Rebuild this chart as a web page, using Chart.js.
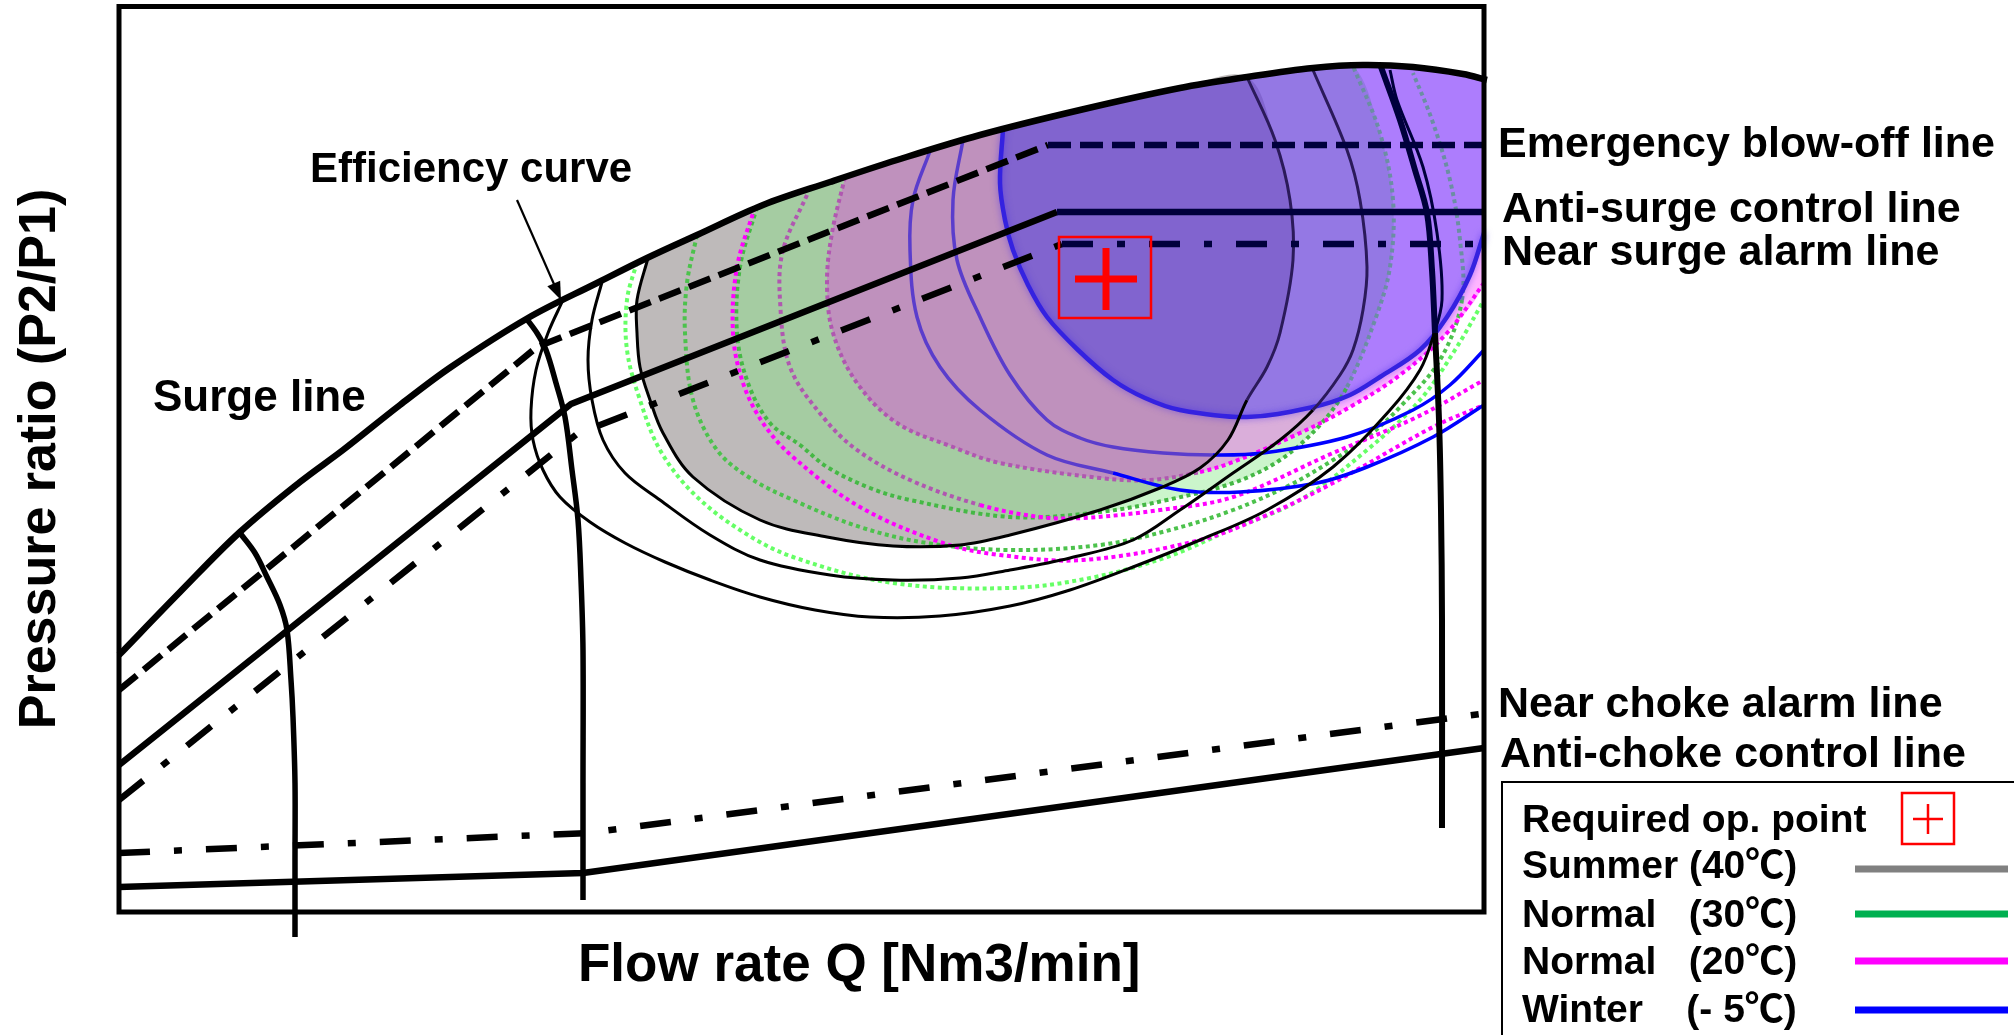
<!DOCTYPE html>
<html><head><meta charset="utf-8">
<script src="https://cdn.jsdelivr.net/npm/chart.js@4.4.1/dist/chart.umd.min.js"></script>
<style>html,body{margin:0;padding:0;background:#fff;overflow:hidden}canvas{display:block}</style>
</head><body>
<canvas id="c" width="2014" height="1035"></canvas>
<script>
// ---------- values (flow units x, pressure units y) ----------
const surgeLine = [[0,257],[61,320],[121,380],[181,430],[224,462],[281,507],[332,545],[409,594],[478,629],[528,654],[578,677],[644,707],[711,730],[778,752],[861,777],[961,802],[1061,824],[1128,835],[1194,844],[1244,847],[1294,845],[1344,838],[1368,832]];
const speedLine1 = [[121,379],[136,359],[148,335],[161,307],[168,282],[172,232],[174,195],[176,129],[176,52],[176,-25]];
const speedLine2 = [[407,594],[418,579],[427,562],[437,529],[446,495],[453,442],[459,392],[462,332],[464,262],[464,129],[464,12]];
const speedLine3 = [[1262,845],[1281,792],[1296,742],[1308,699],[1313,642],[1316,579],[1320,492],[1322,402],[1323,292],[1323,84]];
const blowOffLine = [[0,222],[418,565],[929,767],[1365,767]];
const antiSurgeLine = [[0,147],[452,508],[938,700],[1365,700]];
const nearSurgeLine = [[0,112],[458,478],[943,668],[1365,668]];
const antiChokeLine = [[0,25],[464,39],[1365,164]];
const nearChokeLine = [[0,59],[469,79],[1369,199]];
// Summer (40C) efficiency contours
const summerEff1 = [[529,654],[518,612],[518,579],[521,545],[531,512],[544,479],[574,435],[641,392],[708,375],[774,366],[841,367],[891,377],[981,402],[1041,424],[1081,444],[1109,472],[1128,512],[1148,545],[1161,579],[1174,652],[1171,712],[1156,772],[1128,835]];
const summerEff2 = [[483,630],[473,592],[469,552],[473,512],[484,472],[506,439],[541,412],[591,377],[641,352],[711,337],[774,332],[841,334],[891,342],[951,354],[1014,372],[1061,402],[1114,439],[1161,472],[1194,502],[1221,537],[1234,562],[1244,602],[1248,645],[1241,712],[1228,762],[1194,842]];
const summerEff3 = [[444,612],[429,579],[417,542],[412,502],[414,472],[424,442],[441,415],[471,390],[506,369],[546,350],[591,332],[641,315],[696,302],[751,295],[821,296],[891,306],[951,322],[1014,345],[1081,372],[1148,402],[1214,445],[1271,502],[1301,542],[1314,575],[1323,612],[1318,679],[1304,745],[1278,812],[1271,842]];
// Normal (30C) contours
const n30Eff1 = [[638,705],[621,645],[618,579],[629,529],[651,489],[681,467],[708,445],[751,424],[791,412],[891,395],[981,400],[1048,412],[1114,429],[1161,452],[1201,487],[1228,525],[1256,592],[1271,645],[1274,712],[1261,779],[1234,846]];
const n30Eff2 = [[578,677],[568,629],[566,579],[574,512],[598,462],[631,434],[674,412],[741,385],[808,369],[891,362],[981,367],[1051,382],[1114,402],[1171,427],[1214,452],[1251,477],[1281,505],[1321,552],[1343,612],[1341,672],[1331,732],[1313,792],[1294,839]];
const n30Eff3 = [[518,650],[508,612],[508,562],[521,512],[541,462],[574,419],[621,382],[674,355],[774,329],[891,324],[971,334],[1048,355],[1111,382],[1181,412],[1248,462],[1301,512],[1336,562],[1365,612]];
// Normal (20C) contours
const n20Eff1 = [[636,705],[618,645],[614,579],[624,529],[644,489],[674,455],[741,405],[824,369],[881,357],[964,352],[1081,372],[1148,397],[1214,429],[1314,485],[1365,507]];
const n20Eff2 = [[688,717],[664,662],[661,612],[671,545],[704,495],[738,462],[791,432],[861,407],[921,395],[964,394],[1041,402],[1114,415],[1214,459],[1298,495],[1365,532]];
const n20Eff3 = [[726,735],[713,679],[708,629],[714,579],[738,529],[778,489],[834,465],[881,449],[981,434],[1031,432],[1081,440],[1114,450],[1181,479],[1231,505],[1281,537],[1328,579],[1365,629]];
// Winter (-5C) contours
const winterEff1 = [[884,783],[881,729],[886,692],[894,662],[909,627],[928,595],[959,562],[994,532],[1026,514],[1061,502],[1128,495],[1194,505],[1231,517],[1261,535],[1301,562],[1328,595],[1351,637],[1365,679]];
const winterEff2 = [[844,772],[834,712],[838,652],[861,595],[891,537],[928,492],[961,474],[994,465],[1044,459],[1094,457],[1144,459],[1228,475],[1294,502],[1331,527],[1365,562]];
const winterEff3 = [[811,761],[794,712],[791,662],[798,595],[821,545],[861,502],[928,457],[994,439],[1061,422],[1121,420],[1198,429],[1248,445],[1314,475],[1365,507]];
const requiredPoint = [[987,633]];
const arrowTail = [398,712];
const arrowTip = [442,612];
// texts
const xTitle = 'Flow rate Q [Nm3/min]';
const yTitle = 'Pressure ratio (P2/P1)';
const lineLabels = ['Emergency blow-off line','Anti-surge control line','Near surge alarm line','Near choke alarm line','Anti-choke control line'];
const legendLabels = ['Required op. point','Summer (40\u2103)','Normal   (30\u2103)','Normal   (20\u2103)','Winter    (- 5\u2103)'];
const legendColors = [null,'#808080','#00b050','#ff00ff','#0000ff'];

// ---------- helpers ----------
const P = a => a.map(([x, y]) => ({x, y}));
const env = (lo, hi) => surgeLine.filter(([x]) => x > lo && x < hi).reverse();
function line(label, data, color, width, opts) {
  return Object.assign({label, data: P(data), borderColor: color, borderWidth: width, pointRadius: 0,
    tension: 0.35, fill: false, clip: false}, opts || {});
}
function area(label, data, color) {
  return {label, data: P(data), borderWidth: 0, borderColor: 'rgba(0,0,0,0)', backgroundColor: color,
    fill: 'shape', pointRadius: 0, tension: 0.35};
}
const NAVY = '#00003c', DARKP = '#2b1a5a';
const DOT = [4, 3.5];

const greyArea = summerEff1.concat(env(529, 1128));
const greenArea = n30Eff1.concat(env(638, 1234));
const magentaArea = n20Eff3.concat(winterEff1.slice().reverse(), env(726, 884));
const blueArea = winterEff1.concat(env(884, 1400));

const datasets = [
  area('Summer island', greyArea, '#bebaba'),
  area('Normal 30 island', greenArea, 'rgba(129,230,129,0.41)'),
  area('Normal 20 island', magentaArea, 'rgba(255,0,255,0.29)'),
  area('Winter island', blueArea, 'rgba(94,0,251,0.51)'),
  line('Normal 30 eff 3', n30Eff3, '#66ff66', 4, {borderDash: DOT}),
  line('Normal 30 eff 2', n30Eff2, '#4cc24c', 4, {borderDash: DOT,
    segment: {borderColor: c => (c.p0.parsed.x > 1250 && c.p0.parsed.y > 560) ? '#6b8ea3' : undefined}}),
  line('Normal 30 eff 1', n30Eff1, '#45b845', 4, {borderDash: DOT,
    segment: {borderColor: c => (c.p0.parsed.x > 1150 && c.p0.parsed.y > 520) ? '#6b8ea3' : undefined}}),
  line('Normal 20 eff 1', n20Eff1, '#ff00ff', 4, {borderDash: DOT}),
  line('Normal 20 eff 2', n20Eff2, '#ff00ff', 4, {borderDash: DOT,
    segment: {borderColor: c => c.p0.parsed.x < 861 ? '#b057b0' : undefined}}),
  line('Normal 20 eff 3', n20Eff3, '#ff00ff', 4, {borderDash: DOT,
    segment: {borderColor: c => c.p0.parsed.x < 1081 ? '#b057b0' : undefined}}),
  line('Winter eff 3', winterEff3, '#0000ff', 3.5,
    {segment: {borderColor: c => c.p0.parsed.x < 994 ? '#5a3dcc' : undefined}}),
  line('Winter eff 2', winterEff2, '#0000ff', 3.5,
    {segment: {borderColor: c => c.p0.parsed.x < 1094 ? '#5a3dcc' : undefined}}),
  line('Winter eff 1', winterEff1, '#3422e0', 4.5, {glow: true}),
  line('Summer eff 3', summerEff3, '#000', 3,
    {segment: {borderColor: c => (c.p0.parsed.x > 1250 && c.p0.parsed.y >= 575) ? NAVY : undefined}}),
  line('Summer eff 2', summerEff2, '#000', 3,
    {segment: {borderColor: c => (c.p0.parsed.x > 1150 && c.p0.parsed.y >= 500) ? DARKP : undefined}}),
  line('Summer eff 1', summerEff1, '#000', 3,
    {segment: {borderColor: c => (c.p0.parsed.x > 1100 && c.p0.parsed.y >= 510) ? DARKP : undefined}}),
  line('Near choke alarm line', nearChokeLine, '#000', 6.5, {tension: 0, borderDash: [31, 24, 8, 24]}),
  line('Anti-choke control line', antiChokeLine, '#000', 6.5, {tension: 0}),
  line('Near surge alarm line', nearSurgeLine, '#000', 6.5, {tension: 0, borderDash: [31, 24, 8, 24],
    segment: {borderColor: c => c.p0.parsed.x >= 940 ? NAVY : undefined}}),
  line('Anti-surge control line', antiSurgeLine, '#000', 6.5, {tension: 0,
    segment: {borderColor: c => c.p0.parsed.x >= 935 ? NAVY : undefined}}),
  line('Emergency blow-off line', blowOffLine, '#000', 6.5, {tension: 0, borderDash: [23, 9],
    segment: {borderColor: c => c.p0.parsed.x >= 925 ? NAVY : undefined}}),
  line('Speed 1', speedLine1, '#000', 5.5),
  line('Speed 2', speedLine2, '#000', 5.5),
  line('Speed 3', speedLine3, '#000', 6,
    {segment: {borderColor: c => c.p1.parsed.y >= 579 ? NAVY : undefined}}),
  line('Surge line', surgeLine, '#000', 6.5),
  {label: 'Required op. point', data: P(requiredPoint), showLine: false, pointStyle: 'cross',
    pointRadius: 31, pointBorderWidth: 7, pointBorderColor: '#ff0000', borderColor: '#ff0000', clip: false}
];
datasets.forEach((d, i) => { d.order = datasets.length - i; });
const opIndex = datasets.length - 1;

const glow = {
  id: 'glow',
  beforeDatasetDraw(chart, args) {
    if (chart.data.datasets[args.index].glow) {
      const ctx = chart.ctx; ctx.save();
      ctx.shadowColor = 'rgba(70,40,230,0.55)'; ctx.shadowBlur = 7;
    }
  },
  afterDatasetDraw(chart, args) {
    if (chart.data.datasets[args.index].glow) chart.ctx.restore();
  }
};

const FONT = '"Liberation Sans", Arial, "Noto Sans CJK JP", sans-serif';
const annot = {
  id: 'annot',
  afterDraw(chart) {
    const ctx = chart.ctx, a = chart.chartArea, sx = chart.scales.x, sy = chart.scales.y;
    ctx.save();
    // plot frame
    ctx.strokeStyle = '#000'; ctx.lineWidth = 5;
    ctx.strokeRect(a.left, a.top - 0.5, a.right - a.left, a.bottom - a.top + 0.5);
    // required op point frame
    const m = chart.getDatasetMeta(opIndex).data[0];
    ctx.strokeStyle = '#ff0000'; ctx.lineWidth = 2.5;
    ctx.strokeRect(m.x - 47, m.y - 42, 92, 81);
    // arrow to efficiency curve
    const x0 = sx.getPixelForValue(arrowTail[0]), y0 = sy.getPixelForValue(arrowTail[1]);
    const x1 = sx.getPixelForValue(arrowTip[0]), y1 = sy.getPixelForValue(arrowTip[1]);
    const ang = Math.atan2(y1 - y0, x1 - x0), L = 18, W = 7;
    ctx.strokeStyle = '#000'; ctx.fillStyle = '#000'; ctx.lineWidth = 2.2;
    ctx.beginPath(); ctx.moveTo(x0, y0); ctx.lineTo(x1 - Math.cos(ang) * L * 0.7, y1 - Math.sin(ang) * L * 0.7); ctx.stroke();
    ctx.beginPath(); ctx.moveTo(x1, y1);
    ctx.lineTo(x1 - L * Math.cos(ang) + W * Math.sin(ang), y1 - L * Math.sin(ang) - W * Math.cos(ang));
    ctx.lineTo(x1 - L * Math.cos(ang) - W * Math.sin(ang), y1 - L * Math.sin(ang) + W * Math.cos(ang));
    ctx.closePath(); ctx.fill();
    // texts
    ctx.fillStyle = '#000'; ctx.textAlign = 'left'; ctx.textBaseline = 'alphabetic';
    ctx.font = 'bold 42px ' + FONT; ctx.fillText('Efficiency curve', 310, 182);
    ctx.font = 'bold 44px ' + FONT; ctx.fillText('Surge line', 153, 411);
    ctx.font = 'bold 43px ' + FONT;
    const lx = [1498, 1502, 1502, 1498, 1500], ly = [157, 222, 265, 717, 767];
    lineLabels.forEach((t, i) => ctx.fillText(t, lx[i], ly[i]));
    ctx.font = 'bold 53px ' + FONT; ctx.fillText(xTitle, 578, 981);
    ctx.font = 'bold 52px ' + FONT;
    ctx.save(); ctx.translate(55, 459); ctx.rotate(-Math.PI / 2); ctx.textAlign = 'center';
    ctx.fillText(yTitle, 0, 0); ctx.restore();
    // legend
    ctx.strokeStyle = '#000'; ctx.lineWidth = 2;
    ctx.beginPath(); ctx.moveTo(1502, 1040); ctx.lineTo(1502, 782); ctx.lineTo(2020, 782); ctx.stroke();
    ctx.font = 'bold 39px ' + FONT;
    const by = [832, 878, 927, 974, 1022], sy2 = [0, 869, 914, 961, 1010];
    legendLabels.forEach((t, i) => {
      ctx.fillStyle = '#000'; ctx.fillText(t, 1522, by[i]);
      if (legendColors[i]) {
        ctx.strokeStyle = legendColors[i]; ctx.lineWidth = 7;
        ctx.beginPath(); ctx.moveTo(1855, sy2[i]); ctx.lineTo(2008, sy2[i]); ctx.stroke();
      }
    });
    ctx.strokeStyle = '#ff0000'; ctx.lineWidth = 2.5;
    ctx.strokeRect(1902, 793, 52, 51);
    ctx.beginPath(); ctx.moveTo(1913, 819); ctx.lineTo(1943, 819); ctx.moveTo(1928, 804); ctx.lineTo(1928, 834); ctx.stroke();
    ctx.restore();
  }
};

new Chart(document.getElementById('c'), {
  type: 'line',
  data: {datasets},
  options: {
    responsive: false, animation: false, devicePixelRatio: 1, events: [],
    layout: {autoPadding: false, padding: {left: 119, top: 7, right: 530, bottom: 123}},
    scales: {
      x: {type: 'linear', min: 0, max: 1365, display: false},
      y: {type: 'linear', min: 0, max: 905, display: false}
    },
    plugins: {legend: {display: false}, tooltip: {enabled: false}, title: {display: false}},
    elements: {point: {radius: 0}, line: {borderCapStyle: 'butt', borderJoinStyle: 'round'}}
  },
  plugins: [glow, annot]
});
</script>
</body></html>
